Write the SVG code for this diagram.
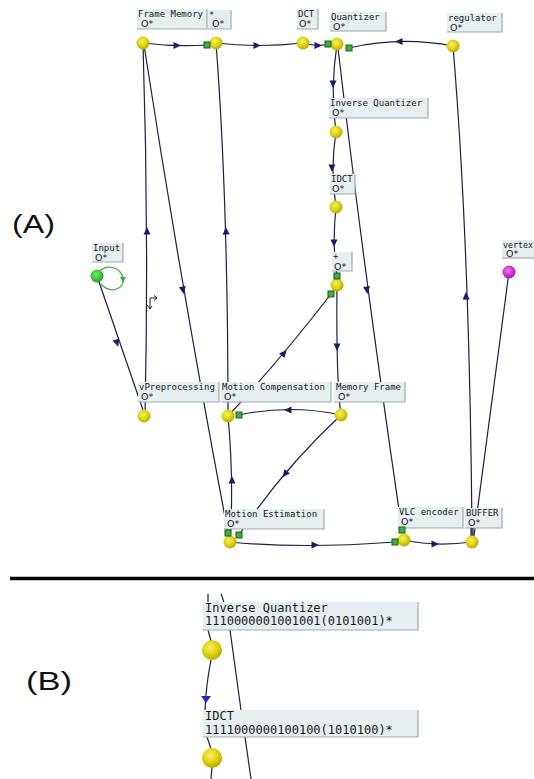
<svg xmlns="http://www.w3.org/2000/svg" width="534" height="779" viewBox="0 0 534 779">
<style>
.e{fill:none;stroke:#1e1e48;stroke-width:1.2}
.lb{fill:#e6eef0}
.ls{fill:none;stroke:#a2aaac;stroke-width:1.2}
.t{font-family:"DejaVu Sans Mono","Liberation Mono",monospace;font-size:9px;fill:#1a1a1a}
.o{font-family:"DejaVu Sans","Liberation Sans",sans-serif;font-size:9.5px;fill:#1a1a1a}
.tb{font-family:"DejaVu Sans Mono","Liberation Mono",monospace;font-size:12px;fill:#1a1a1a}
.big{font-family:"Liberation Sans",Arial,sans-serif;font-size:26px;fill:#111}
.y{fill:url(#yg)}
.p{fill:#3fae3f;stroke:#1d5e1d;stroke-width:1}
.ah{fill:#1c1c6c}
</style>
<defs>
<radialGradient id="yg" cx="0.42" cy="0.38" r="0.62">
<stop offset="0" stop-color="#f6f06a"/>
<stop offset="0.55" stop-color="#e0d414"/>
<stop offset="1" stop-color="#b9a900"/>
</radialGradient>
<radialGradient id="gg" cx="0.42" cy="0.38" r="0.62">
<stop offset="0" stop-color="#6ef06a"/>
<stop offset="1" stop-color="#1fa21f"/>
</radialGradient>
<radialGradient id="mg" cx="0.42" cy="0.38" r="0.62">
<stop offset="0" stop-color="#f070f0"/>
<stop offset="1" stop-color="#b010b0"/>
</radialGradient>
<path id="ar" d="M-3.5,-3.5 L4,0 L-3.5,3.5 Z"/>
</defs>
<rect width="534" height="779" fill="#fff"/>

<g id="connectors">
<path class="e" d="M143,43 Q175,47 207,45"/>
<path class="e" d="M216,43 Q258,48 303,43"/>
<path class="e" d="M303,43 Q318,47 328,44"/>
<path class="e" d="M453,46 Q400,36 349,48"/>
<path class="e" d="M337,44 Q330,90 336,132"/>
<path class="e" d="M338,48 Q365,280 402,530"/>
<path class="e" d="M336,132 Q330,170 336,207"/>
<path class="e" d="M336,207 Q332,245 337,276"/>
<path class="e" d="M337,285 Q336,380 341,415"/>
<path class="e" d="M228,416 Q280,360 331,294"/>
<path class="e" d="M341,415 Q290,404 239,415"/>
<path class="e" d="M341,415 Q282,470 239,535"/>
<path class="e" d="M230,542 Q234,480 228,416"/>
<path class="e" d="M230,542 Q300,549 395,542"/>
<path class="e" d="M404,540 Q435,547 472,542"/>
<path class="e" d="M472,542 Q470,250 453,46"/>
<path class="e" d="M509,272 L474,536"/>
<path class="e" d="M144,45 Q181,285 228,533"/>
<path class="e" d="M145,416 Q149,230 143,43"/>
<path class="e" d="M228,416 Q228,200 216,43"/>
<path class="e" d="M97,276 L143,410"/>
<path fill="none" stroke="#3cb03c" stroke-width="1.2" d="M99,272 C106,264 120,266 123,278 C125,290 110,294 101,284"/>
<path fill="#3cb03c" d="M120,277 L126,277 L123,283 Z"/>
<use href="#ar" class="ah" transform="translate(177,45.5)"/>
<use href="#ar" class="ah" transform="translate(257,45.5)"/>
<use href="#ar" class="ah" transform="translate(318,45.5)"/>
<use href="#ar" class="ah" transform="translate(399,41.5) rotate(180)"/>
<use href="#ar" class="ah" transform="translate(333,84) rotate(90)"/>
<use href="#ar" class="ah" transform="translate(367,290) rotate(82)"/>
<use href="#ar" class="ah" transform="translate(332,168) rotate(90)"/>
<use href="#ar" class="ah" transform="translate(334,243) rotate(90)"/>
<use href="#ar" class="ah" transform="translate(337,347) rotate(90)"/>
<use href="#ar" class="ah" transform="translate(284,353) rotate(-50)"/>
<use href="#ar" class="ah" transform="translate(288,410) rotate(180)"/>
<use href="#ar" class="ah" transform="translate(285,474) rotate(128)"/>
<use href="#ar" class="ah" transform="translate(232,480) rotate(-90)"/>
<use href="#ar" class="ah" transform="translate(315,545) rotate(0)"/>
<use href="#ar" class="ah" transform="translate(435,544) rotate(0)"/>
<use href="#ar" class="ah" transform="translate(466,296) rotate(-92)"/>
<use href="#ar" class="ah" transform="translate(183,290) rotate(80)"/>
<use href="#ar" class="ah" transform="translate(147,231) rotate(-90)"/>
<use href="#ar" class="ah" transform="translate(226,231) rotate(-93)"/>
<use href="#ar" class="ah" transform="translate(117,343) rotate(71)"/>
<path fill="none" stroke="#222" stroke-width="1" d="M150,309 L150,298 L157,298 M154,295.5 L157,298 L154,300.5 M147,305 L150,309 L152,306"/>
</g>

<g id="n-frame-memory">
<rect class="lb" x="137" y="9" width="70" height="20"/><path class="ls" d="M207,9 V29 H137"/>
<text class="t" x="138" y="16.5">Frame Memory</text><text class="o" x="141" y="27">O*</text>
<circle class="y" cx="143" cy="43" r="6.5"/>
</g>
<g id="n-star">
<rect class="lb" x="208" y="10" width="23" height="19"/><path class="ls" d="M231,10 V29 H208"/>
<text class="t" x="209" y="17.5">*</text><text class="o" x="212" y="27">O*</text>
<circle class="y" cx="216" cy="43" r="6.5"/>
<rect class="p" x="204" y="42" width="6" height="6"/>
</g>
<g id="n-dct">
<rect class="lb" x="297" y="9" width="21" height="20"/><path class="ls" d="M318,9 V29 H297"/>
<text class="t" x="298" y="16.5">DCT</text><text class="o" x="299" y="27">O*</text>
<circle class="y" cx="303" cy="43" r="6.5"/>
</g>
<g id="n-quantizer">
<rect class="lb" x="330" y="12" width="56" height="19"/><path class="ls" d="M386,12 V31 H330"/>
<text class="t" x="331" y="19.5">Quantizer</text><text class="o" x="333" y="30">O*</text>
<circle class="y" cx="337" cy="44" r="6.5"/>
<rect class="p" x="325" y="41" width="6" height="6"/>
<rect class="p" x="346" y="45" width="6" height="6"/>
</g>
<g id="n-regulator">
<rect class="lb" x="447" y="13" width="55" height="19"/><path class="ls" d="M502,13 V32 H447"/>
<text class="t" x="448" y="20.5">regulator</text><text class="o" x="450" y="31">O*</text>
<circle class="y" cx="453" cy="46" r="6.5"/>
</g>
<g id="n-inverse-quantizer">
<rect class="lb" x="329" y="98" width="99" height="20"/><path class="ls" d="M428,98 V118 H329"/>
<text class="t" x="330" y="105.5">Inverse Quantizer</text><text class="o" x="332" y="116">O*</text>
<circle class="y" cx="336" cy="132" r="6.5"/>
</g>
<g id="n-idct">
<rect class="lb" x="330" y="174" width="25" height="20"/><path class="ls" d="M355,174 V194 H330"/>
<text class="t" x="331" y="181.5">IDCT</text><text class="o" x="332" y="192">O*</text>
<circle class="y" cx="336" cy="207" r="6.5"/>
</g>
<g id="n-plus">
<rect class="lb" x="332" y="252" width="20" height="19"/><path class="ls" d="M352,252 V271 H332"/>
<text class="t" x="333" y="259">+</text><text class="o" x="334" y="269.5">O*</text>
<circle class="y" cx="337" cy="285" r="6.5"/>
<rect class="p" x="334" y="273" width="6" height="6"/>
<rect class="p" x="328" y="291" width="6" height="6"/>
</g>
<g id="n-vertex">
<rect class="lb" x="502" y="240" width="32" height="18"/><path class="ls" d="M502,258 H534"/>
<text class="t" x="503" y="247.5" style="font-size:8.3px">vertex</text><text class="o" x="506" y="257">O*</text>
<circle fill="url(#mg)" cx="509" cy="272" r="6.5"/>
</g>
<g id="n-input">
<rect class="lb" x="92" y="243" width="31" height="19"/><path class="ls" d="M123,243 V262 H92"/>
<text class="t" x="93" y="250.5">Input</text><text class="o" x="95" y="261">O*</text>
<circle fill="url(#gg)" cx="97" cy="276" r="6.5"/>
</g>
<g id="n-vpreprocessing">
<rect class="lb" x="138" y="382" width="81" height="20"/><path class="ls" d="M219,382 V402 H138"/>
<text class="t" x="139" y="389.5">vPreprocessing</text><text class="o" x="141" y="400">O*</text>
<circle class="y" cx="144" cy="416" r="6.5"/>
</g>
<g id="n-motion-compensation">
<rect class="lb" x="221" y="382" width="110" height="20"/><path class="ls" d="M331,382 V402 H221"/>
<text class="t" x="222" y="389.5">Motion Compensation</text><text class="o" x="224" y="400">O*</text>
<circle class="y" cx="228" cy="416" r="6.5"/>
<rect class="p" x="236" y="412" width="6" height="6"/>
</g>
<g id="n-memory-frame">
<rect class="lb" x="334" y="382" width="71" height="20"/><path class="ls" d="M405,382 V402 H334"/>
<text class="t" x="336" y="389.5">Memory Frame</text><text class="o" x="338" y="400">O*</text>
<circle class="y" cx="341" cy="415" r="6.5"/>
</g>
<g id="n-motion-estimation">
<rect class="lb" x="224" y="509" width="100" height="20"/><path class="ls" d="M324,509 V529 H224"/>
<text class="t" x="225" y="516.5">Motion Estimation</text><text class="o" x="227" y="527">O*</text>
<circle class="y" cx="230" cy="542" r="6.5"/>
<rect class="p" x="225" y="530" width="6" height="6"/>
<rect class="p" x="236" y="532" width="6" height="6"/>
</g>
<g id="n-vlc-encoder">
<rect class="lb" x="398" y="507" width="65" height="21"/><path class="ls" d="M463,507 V528 H398"/>
<text class="t" x="399" y="514.5">VLC encoder</text><text class="o" x="401" y="525">O*</text>
<circle class="y" cx="404" cy="540" r="6.5"/>
<rect class="p" x="399" y="527" width="6" height="6"/>
<rect class="p" x="392" y="539" width="6" height="6"/>
</g>
<g id="n-buffer">
<rect class="lb" x="465" y="508" width="37" height="20"/><path class="ls" d="M502,508 V528 H465"/>
<text class="t" x="466" y="515.5">BUFFER</text><text class="o" x="468" y="526">O*</text>
<path class="e" d="M471,528 V536 M473,528 V536"/>
<circle class="y" cx="472" cy="542" r="6.5"/>
</g>

<text class="big" x="12" y="233" textLength="43" lengthAdjust="spacingAndGlyphs">(A)</text>
<line x1="10" y1="578.5" x2="534" y2="578.5" stroke="#000" stroke-width="3.5"/>
<text class="big" x="26" y="690" textLength="46" lengthAdjust="spacingAndGlyphs">(B)</text>

<g id="b-connectors">
<path class="e" d="M208,594 V603"/>
<path class="e" d="M221,594 Q223,598 224,603"/>
<path class="e" d="M208,630 L211,641"/>
<path class="e" d="M211,660 Q206,685 205,710"/>
<path fill="#2626d0" d="M201,696 L211,696 L206,703 Z"/>
<path class="e" d="M230,630 L241,710"/>
<path class="e" d="M207,737 L211,749"/>
<path class="e" d="M212,767 L211,779"/>
<path class="e" d="M245,737 L251,779"/>
</g>
<g id="b-inverse-quantizer">
<rect class="lb" x="203" y="602" width="215" height="28"/><path class="ls" d="M418,602 V630 H203"/>
<text class="tb" x="205" y="612">Inverse Quantizer</text>
<text class="tb" x="205" y="625">1110000001001001(0101001)*</text>
<circle class="y" cx="212" cy="650" r="10"/>
</g>
<g id="b-idct">
<rect class="lb" x="203" y="710" width="215" height="27"/><path class="ls" d="M418,710 V737 H203"/>
<text class="tb" x="205" y="720">IDCT</text>
<text class="tb" x="205" y="734">1111000000100100(1010100)*</text>
<circle class="y" cx="212" cy="758" r="10"/>
</g>
</svg>
